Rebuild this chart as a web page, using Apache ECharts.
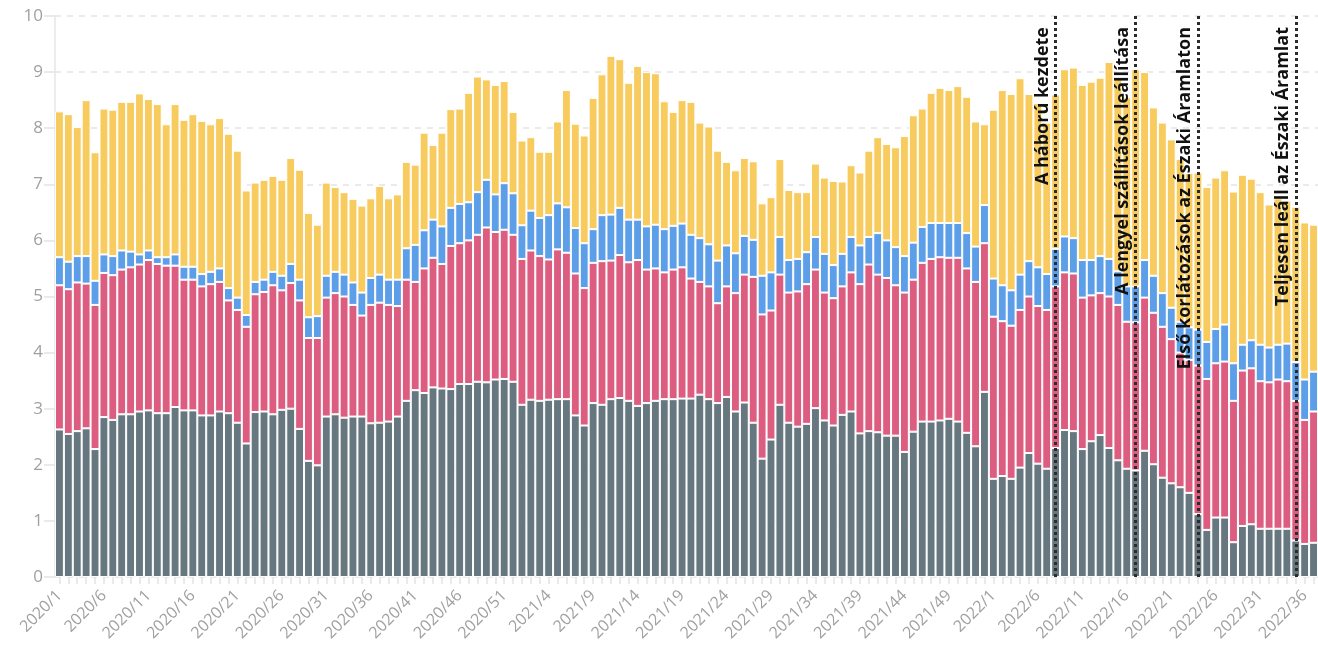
<!DOCTYPE html>
<html>
<head>
<meta charset="utf-8">
<script src="https://cdn.jsdelivr.net/npm/echarts@6/dist/echarts.min.js"></script>
<style>
html,body{margin:0;padding:0;background:#fff;}
#chart{width:1318px;height:654px;}
</style>
</head>
<body>
<div id="chart"></div>
<script>
// Categories: week labels
const years = [2020, 2021, 2022];
const weeksPerYear = [52, 53, 37];
const categories = [];
years.forEach((y, k) => { for (let w = 1; w <= weeksPerYear[k]; w++) categories.push(y + '/' + w); });

// Series values (bottom to top)
const grayValues = [
2.63,2.55,2.60,2.65,2.28,2.85,2.80,2.90,2.90,2.95,2.97,2.92,2.92,3.03,2.97,2.97,2.88,2.88,2.95,2.92,
2.75,2.38,2.94,2.95,2.90,2.98,3.00,2.64,2.07,1.99,2.86,2.90,2.84,2.86,2.86,2.74,2.75,2.77,2.86,3.14,
3.33,3.28,3.38,3.36,3.35,3.44,3.44,3.48,3.47,3.52,3.53,3.48,3.07,3.16,3.14,3.16,3.17,3.17,2.88,2.70,
3.10,3.07,3.17,3.19,3.14,3.05,3.10,3.14,3.17,3.17,3.18,3.18,3.25,3.17,3.10,3.21,2.95,3.11,2.75,2.11,
2.45,3.07,2.75,2.68,2.73,3.01,2.79,2.70,2.89,2.95,2.56,2.60,2.58,2.52,2.52,2.23,2.59,2.77,2.77,2.79,
2.82,2.77,2.57,2.33,3.30,1.75,1.80,1.75,1.95,2.21,2.02,1.93,2.30,2.62,2.60,2.28,2.42,2.53,2.30,2.08,
1.93,1.90,2.25,2.01,1.77,1.67,1.60,1.50,1.12,0.84,1.06,1.06,0.62,0.91,0.94,0.86,0.86,0.86,0.86,0.65,
0.59,0.61];
const pinkValues = [
2.57,2.58,2.65,2.58,2.57,2.57,2.58,2.58,2.62,2.62,2.68,2.66,2.63,2.52,2.33,2.33,2.30,2.34,2.31,2.01,
2.01,2.08,2.10,2.13,2.30,2.13,2.24,2.29,2.19,2.27,2.12,2.16,2.16,1.99,1.80,2.11,2.14,2.08,1.97,2.16,
1.93,2.22,2.31,2.22,2.55,2.51,2.56,2.62,2.76,2.63,2.66,2.62,2.60,2.66,2.58,2.50,2.67,2.61,2.53,2.45,
2.50,2.56,2.47,2.55,2.47,2.60,2.38,2.36,2.26,2.31,2.34,2.14,2.01,2.01,1.78,1.97,2.11,2.28,2.60,2.57,
2.30,2.32,2.32,2.41,2.49,2.47,2.28,2.27,2.29,2.48,2.66,2.97,2.81,2.81,2.68,2.84,2.71,2.83,2.90,2.91,
2.87,2.92,2.93,2.93,2.65,2.89,2.76,2.73,2.81,2.79,2.81,2.83,2.88,2.81,2.81,2.70,2.60,2.53,2.70,2.77,
2.62,2.64,2.73,2.70,2.69,2.57,2.40,2.37,2.65,2.69,2.75,2.78,2.52,2.77,2.78,2.63,2.61,2.66,2.63,2.49,
2.21,2.34];
const blueValues = [
0.50,0.49,0.47,0.49,0.43,0.33,0.34,0.34,0.28,0.18,0.17,0.12,0.15,0.20,0.23,0.23,0.22,0.22,0.24,0.22,
0.22,0.21,0.22,0.22,0.24,0.26,0.34,0.37,0.37,0.39,0.39,0.38,0.39,0.40,0.41,0.48,0.50,0.45,0.47,0.56,
0.66,0.68,0.68,0.67,0.68,0.70,0.68,0.76,0.85,0.67,0.83,0.74,0.60,0.71,0.68,0.79,0.82,0.81,0.81,0.80,
0.60,0.82,0.82,0.84,0.76,0.72,0.77,0.78,0.77,0.78,0.78,0.78,0.78,0.75,0.76,0.73,0.71,0.69,0.66,0.69,
0.68,0.67,0.58,0.58,0.57,0.58,0.69,0.59,0.58,0.63,0.69,0.49,0.74,0.67,0.68,0.65,0.66,0.64,0.64,0.61,
0.62,0.62,0.63,0.63,0.68,0.68,0.64,0.63,0.63,0.63,0.69,0.64,0.67,0.64,0.63,0.67,0.63,0.66,0.67,0.60,
0.63,0.64,0.67,0.66,0.60,0.56,0.55,0.58,0.64,0.66,0.61,0.66,0.67,0.46,0.50,0.65,0.62,0.62,0.67,0.69,
0.72,0.71];
const yellowValues = [
2.60,2.63,2.30,2.78,2.29,2.60,2.61,2.65,2.67,2.87,2.70,2.73,2.37,2.68,2.62,2.72,2.73,2.63,2.68,2.75,
2.62,2.22,1.77,1.78,1.71,1.71,1.89,1.96,1.86,1.63,1.66,1.51,1.47,1.49,1.55,1.42,1.58,1.45,1.52,1.54,
1.43,1.74,1.33,1.67,1.76,1.70,1.95,2.06,1.79,1.95,1.82,1.45,1.51,1.31,1.18,1.13,1.46,2.09,1.86,1.92,
2.34,2.51,2.83,2.65,2.44,2.74,2.75,2.70,2.28,2.03,2.20,2.37,2.06,2.10,1.96,1.49,1.48,1.39,1.40,1.29,
1.34,1.39,1.25,1.19,1.07,1.31,1.36,1.50,1.29,1.28,1.30,1.54,1.71,1.72,1.78,2.14,2.27,2.11,2.32,2.41,
2.37,2.44,2.43,2.23,1.44,3.01,3.48,3.50,3.50,2.98,2.93,2.70,2.75,2.98,3.04,3.12,3.18,3.18,3.51,3.45,
3.37,3.87,3.35,3.00,3.04,3.00,2.90,2.75,2.80,2.76,2.70,2.75,3.06,3.03,2.88,2.72,2.55,2.61,2.55,2.77,
2.80,2.62];

// Event markers
const eventWeeks = ['2022/8', '2022/17', '2022/24', '2022/35'];
const eventLabels = ['A háború kezdete', 'A lengyel szállítások leállítása', 'Első korlátozások az Északi Áramlaton', 'Teljesen leáll az Északi Áramlat'];

const colors = ['#66777f', '#dc5d80', '#5d9ee8', '#f7cb5e'];
const font = 'Open Sans';

const chart = echarts.init(document.getElementById('chart'), null, {renderer: 'canvas'});

function barSeries(name, data, color, extra) {
  return Object.assign({
    name: name,
    type: 'bar',
    stack: 'total',
    data: data,
    barCategoryGap: '0%',
    itemStyle: {color: color, borderColor: '#ffffff', borderWidth: 1},
    emphasis: {disabled: true},
    silent: true
  }, extra || {});
}

const option = {
  animation: false,
  backgroundColor: '#ffffff',
  grid: {left: 55, right: -5, top: 16, bottom: 77, containLabel: false},
  xAxis: {
    type: 'category',
    data: categories,
    boundaryGap: true,
    axisLine: {show: false},
    axisTick: {show: true, interval: 0, alignWithLabel: true, length: 7, lineStyle: {color: '#e3e3e3', width: 1.5}},
    axisLabel: {interval: 4, rotate: 45, color: '#a0a0a0', fontSize: 16, fontFamily: font, margin: 16}
  },
  yAxis: {
    type: 'value',
    min: 0, max: 10, interval: 1,
    axisLine: {show: true, lineStyle: {color: '#e6e6e6', width: 1.5}},
    axisTick: {show: true, length: 11, lineStyle: {color: '#e3e3e3', width: 1.5}},
    axisLabel: {color: '#a0a0a0', fontSize: 17, fontFamily: font, margin: 12},
    splitLine: {show: true, lineStyle: {color: '#e3e3e3', width: 1.5, type: [6, 6]}}
  },
  series: [
    barSeries('s1', grayValues, colors[0]),
    barSeries('s2', pinkValues, colors[1]),
    barSeries('s3', blueValues, colors[2]),
    barSeries('s4', yellowValues, colors[3], {
      markLine: {
        silent: true,
        symbol: ['none', 'none'],
        z: 10,
        lineStyle: {type: 'dotted', color: '#2b2b2b', width: 3},
        label: {
          show: true,
          position: 'insideEndTop',
          formatter: p => p.name,
          color: '#111111',
          fontWeight: 'bold',
          fontSize: 18,
          fontFamily: font,
          padding: [0, 7, 0, 0],
          distance: 4
        },
        emphasis: {disabled: true},
        data: eventWeeks.map((w, i) => ({xAxis: w, name: eventLabels[i]}))
      }
    })
  ]
};
chart.setOption(option);
</script>
</body>
</html>
